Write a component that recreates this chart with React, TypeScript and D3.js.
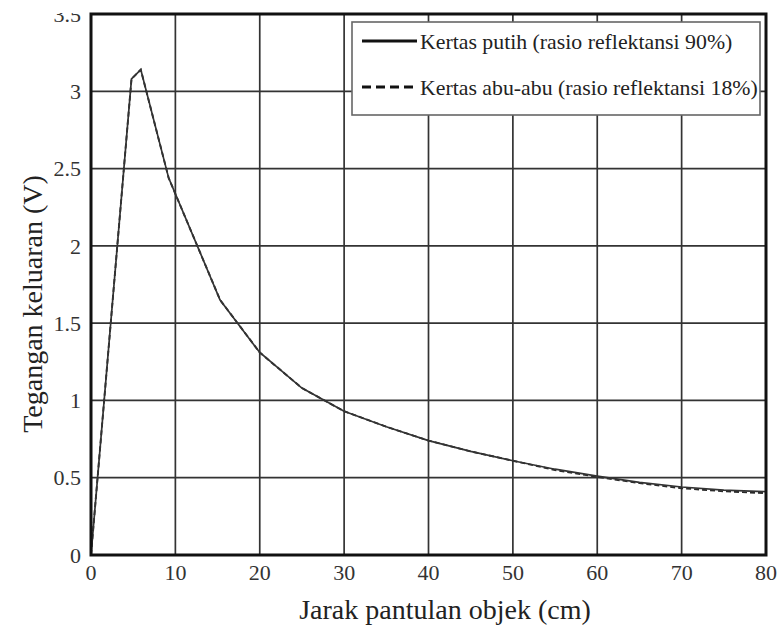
import React from 'react'
import * as d3 from 'd3'

// distance (cm) and output voltage (V)
const distance = [0, 4.8, 5.9, 9.2, 15.3, 20, 25, 30, 35, 40, 45, 50, 55, 60, 65, 70, 75, 80]
const whitePaper = [0, 3.08, 3.14, 2.44, 1.65, 1.31, 1.08, 0.93, 0.83, 0.74, 0.67, 0.61, 0.555, 0.51, 0.47, 0.44, 0.42, 0.41]
const greyPaper = [0, 3.08, 3.14, 2.44, 1.65, 1.31, 1.08, 0.93, 0.83, 0.74, 0.67, 0.61, 0.55, 0.505, 0.465, 0.432, 0.412, 0.4]

const xTicks = [0, 10, 20, 30, 40, 50, 60, 70, 80]
const yTicks = [0, 0.5, 1, 1.5, 2, 2.5, 3, 3.5]
const yTickLabels = ['0', '0.5', '1', '1.5', '2', '2.5', '3', '3.5']

const legendLabels = ['Kertas putih (rasio reflektansi 90%)', 'Kertas abu-abu (rasio reflektansi 18%)']

const W = 779
const H = 628
const serif = { fontFamily: '"Liberation Serif", "Times New Roman", Times, serif' }

export default function App() {
  const x = d3.scaleLinear().domain([0, 80]).range([91, 766])
  const y = d3.scaleLinear().domain([0, 3.5]).range([555, 14])

  const line = d3.line<number>()
    .x((_, i) => x(distance[i]))
    .y(d => y(d))

  return (
    <svg width={W} height={H} style={{ position: 'absolute', left: 0, top: 0, background: '#fff', ...serif }}>
      <defs>
        <clipPath id="page">
          <rect x={0} y={13} width={W} height={H - 13} />
        </clipPath>
      </defs>
      <rect width={W} height={H} fill="#fff" />
      {/* grid */}
      <g stroke="#333" strokeWidth={1.7}>
        {xTicks.slice(1, -1).map(t => (
          <line key={'gx' + t} x1={x(t)} x2={x(t)} y1={y(0)} y2={y(3.5)} />
        ))}
        {yTicks.slice(1, -1).map(t => (
          <line key={'gy' + t} x1={x(0)} x2={x(80)} y1={y(t)} y2={y(t)} />
        ))}
      </g>

      {/* series */}
      <path d={line(greyPaper) || ''} fill="none" stroke="#2a2a2a" strokeWidth={1.9} strokeDasharray="5,3" />
      <path d={line(whitePaper) || ''} fill="none" stroke="#333" strokeWidth={1.7} />

      {/* border */}
      <rect x={x(0)} y={y(3.5)} width={x(80) - x(0)} height={y(0) - y(3.5)}
        fill="none" stroke="#111" strokeWidth={3} />

      {/* legend */}
      <g>
        <rect x={352} y={22} width={408} height={93} fill="#fff" stroke="#666" strokeWidth={1.6} />
        <line x1={362} x2={417} y1={41} y2={41} stroke="#111" strokeWidth={3} />
        <line x1={362} x2={417} y1={87} y2={87} stroke="#111" strokeWidth={3} strokeDasharray="9,5" />
        {legendLabels.map((l, i) => (
          <text key={l} x={420} y={41 + i * 46} dy="0.35em" fontSize={21.8} fill="#222" style={serif}>{l}</text>
        ))}
      </g>

      {/* tick labels */}
      <g fontSize={22} fill="#333" clipPath="url(#page)">
        {xTicks.map(t => (
          <text key={'tx' + t} x={x(t)} y={580} textAnchor="middle" style={serif}>{t}</text>
        ))}
        {yTicks.map((t, i) => (
          <text key={'ty' + t} x={81} y={y(t)} dy="0.35em" textAnchor="end" style={serif}>{yTickLabels[i]}</text>
        ))}
      </g>

      {/* axis titles */}
      <text x={445} y={619} textAnchor="middle" fontSize={28} fill="#222" style={serif}>Jarak pantulan objek (cm)</text>
      <text transform="translate(42,304) rotate(-90)" textAnchor="middle" fontSize={28} fill="#222" style={serif}>
        Tegangan keluaran (V)
      </text>
    </svg>
  )
}
